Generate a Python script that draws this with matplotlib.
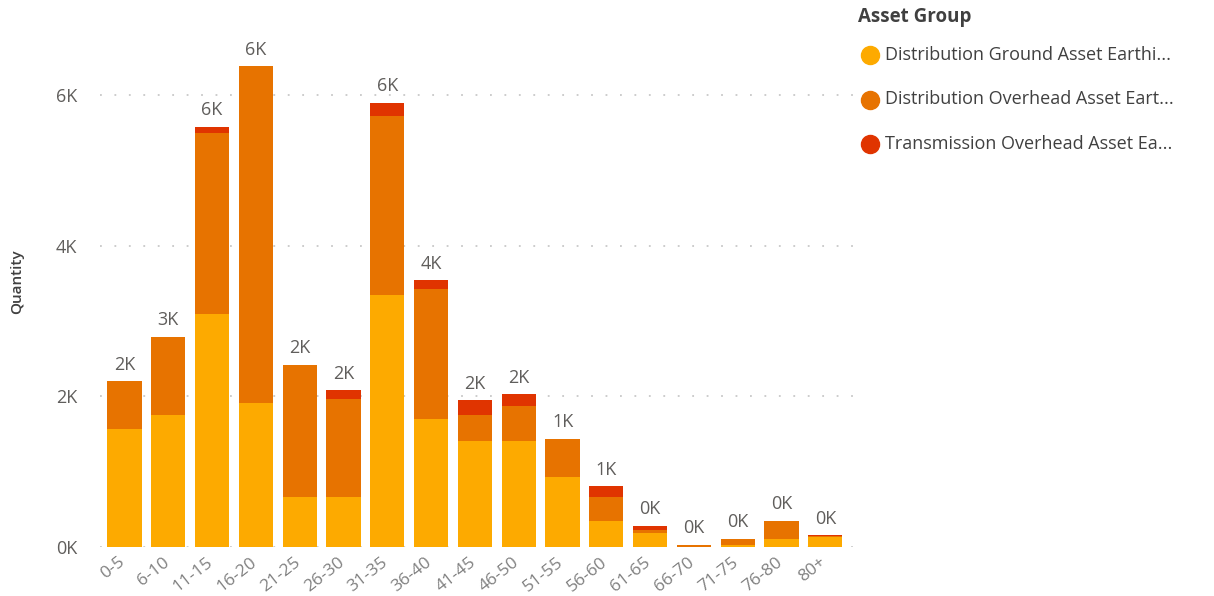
import numpy as np
import matplotlib.pyplot as plt
import matplotlib.transforms as mtransforms

plt.rcParams['font.family'] = ['Open Sans', 'DejaVu Sans']

# Age bands and quantities per asset group (stacked)
age_bands = ['0-5', '6-10', '11-15', '16-20', '21-25', '26-30', '31-35',
             '36-40', '41-45', '46-50', '51-55', '56-60', '61-65', '66-70',
             '71-75', '76-80', '80+']
dist_ground = [1570, 1760, 3090, 1910, 670, 670, 3350, 1700, 1410, 1410,
               930, 350, 190, 5, 30, 110, 130]
dist_overhead = [630, 1030, 2400, 4470, 1750, 1290, 2370, 1730, 350, 460,
                 510, 310, 40, 20, 80, 240, 20]
trans_overhead = [0, 0, 90, 0, 0, 120, 180, 110, 190, 160,
                  0, 150, 50, 5, 0, 0, 5]
legend_names = ['Distribution Ground Asset Earthi...',
                'Distribution Overhead Asset Eart...',
                'Transmission Overhead Asset Ea...']
colors = ['#FDAA00', '#E77300', '#E03400']

text_grey = '#605E5C'

fig = plt.figure(figsize=(12.14, 5.96), dpi=100)
W, H = 1214, 596
ax = fig.add_axes([0.082, 0.082, 0.626, 0.847])

x = np.arange(len(age_bands))
bottom = np.zeros(len(age_bands))
for vals, col in zip([dist_ground, dist_overhead, trans_overhead], colors):
    ax.bar(x, vals, bottom=bottom, width=0.78, color=col, zorder=2)
    bottom += np.array(vals)

# total labels above each stack
for xi, tot in zip(x, bottom):
    ax.text(xi, tot + 100, '%dK' % round(tot / 1000), ha='center',
            va='bottom', fontsize=13, color=text_grey)

ax.set_xlim(-0.57, 16.78)
ax.set_ylim(0, 6700)
ax.set_yticks([0, 2000, 4000, 6000])
ax.set_yticklabels(['0K', '2K', '4K', '6K'])
ax.set_xticks(x)
ax.set_xticklabels(age_bands, rotation=38, ha='right',
                   rotation_mode='anchor')
ax.tick_params(axis='both', length=0, colors=text_grey)
ax.tick_params(axis='y', pad=16, labelsize=13)
ax.tick_params(axis='x', pad=5, labelsize=12.5, colors='#808080')

# nudge the rotated age labels a little to the left
shift = mtransforms.ScaledTranslation(-6 / 100, 0, fig.dpi_scale_trans)
for lbl in ax.get_xticklabels():
    lbl.set_transform(lbl.get_transform() + shift)

ax.grid(axis='y', linestyle=(0, (1, 7)), color='#C8C8C8', linewidth=1.3,
        zorder=0)
for s in ax.spines.values():
    s.set_visible(False)
ax.set_ylabel('Quantity', fontsize=11, color='#404040',
              fontweight='semibold')
ax.yaxis.set_label_coords(-0.099, 0.525)

# legend drawn by hand on the right
fig.text(858 / W, 1 - 17 / H, 'Asset Group', fontsize=13.5,
         fontweight='bold', color='#404040', va='center', ha='left')
for i, (name, col) in enumerate(zip(legend_names, colors)):
    yy = 1 - (55 + 44.5 * i) / H
    fig.lines.append(plt.Line2D([870 / W], [yy], marker='o', markersize=13,
                                color=col, transform=fig.transFigure,
                                figure=fig))
    fig.text(885 / W, yy, name, fontsize=13, color='#404040',
             va='center', ha='left')

fig.savefig('out.png', dpi=100)
